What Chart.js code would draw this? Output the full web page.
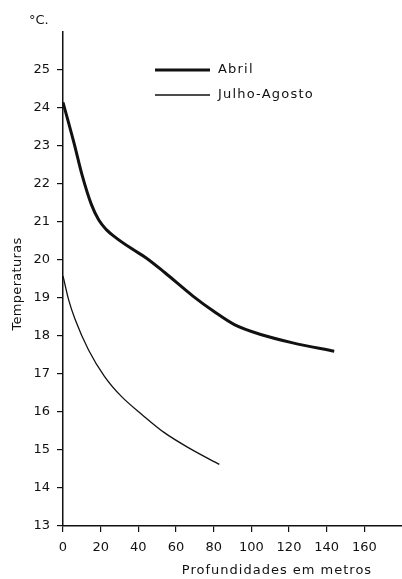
<!DOCTYPE html>
<html>
<head>
<meta charset="utf-8">
<script src="https://cdn.jsdelivr.net/npm/chart.js@4"></script>
<style>
  html, body { margin: 0; padding: 0; background: #fff; }
  #wrap { width: 402px; height: 579px; position: relative; }
</style>
</head>
<body>
<div id="wrap"><canvas id="chart"></canvas></div>
<script>
// depth (m) and temperature (°C)
const depthAbril = [0, 6, 10, 15, 19, 23, 28, 37, 44, 54, 69, 80, 91, 105, 122, 144];
const tempAbril = [24.15, 23.05, 22.26, 21.47, 21.05, 20.8, 20.59, 20.28, 20.06, 19.67, 19.05, 18.65, 18.3, 18.04, 17.82, 17.6];

const depthJulho = [0, 3, 6.4, 13.5, 22, 31, 42, 54, 67, 83];
const tempJulho = [19.58, 18.95, 18.44, 17.64, 16.94, 16.41, 15.93, 15.45, 15.05, 14.62];

const xTicks = [0, 20, 40, 60, 80, 100, 120, 140, 160];
const yTicks = [13, 14, 15, 16, 17, 18, 19, 20, 21, 22, 23, 24, 25];

const seriesNames = ['Abril', 'Julho-Agosto'];

const FONT = '"DejaVu Sans", sans-serif';

// Texts that don't fit chart.js title/legend placement
const textPlugin = {
  id: 'texts',
  afterDraw(chart) {
    const ctx = chart.ctx;
    ctx.save();
    ctx.fillStyle = '#111';
    ctx.textBaseline = 'middle';

    // legend
    chart.data.datasets.forEach((ds, i) => {
      const y = 70 + i * 25;
      ctx.strokeStyle = '#111';
      ctx.lineWidth = ds.borderWidth;
      ctx.beginPath();
      ctx.moveTo(155, y);
      ctx.lineTo(210, y);
      ctx.stroke();
      ctx.font = '13px ' + FONT;
      ctx.textAlign = 'left';
      ctx.letterSpacing = '1.2px';
      ctx.fillText(ds.label, 218, y);
    });

    // unit
    ctx.letterSpacing = '0px';
    ctx.font = '13px ' + FONT;
    ctx.textAlign = 'left';
    ctx.fillText('°C.', 29, 21);

    // x title
    ctx.letterSpacing = '1px';
    ctx.textAlign = 'center';
    ctx.fillText('Profundidades em metros', 277, 571);

    // y title
    ctx.translate(18, 284);
    ctx.rotate(-Math.PI / 2);
    ctx.letterSpacing = '0.3px';
    ctx.fillText('Temperaturas', 0, 0);
    ctx.restore();
  }
};

const ctx = document.getElementById('chart').getContext('2d');
new Chart(ctx, {
  type: 'line',
  data: {
    datasets: [
      {
        label: seriesNames[0],
        data: depthAbril.map((d, i) => ({ x: d, y: tempAbril[i] })),
        borderColor: '#111',
        borderWidth: 3,
        pointRadius: 0,
        cubicInterpolationMode: 'monotone'
      },
      {
        label: seriesNames[1],
        data: depthJulho.map((d, i) => ({ x: d, y: tempJulho[i] })),
        borderColor: '#111',
        borderWidth: 1.3,
        pointRadius: 0,
        cubicInterpolationMode: 'monotone'
      }
    ]
  },
  options: {
    responsive: true,
    maintainAspectRatio: false,
    animation: false,
    layout: { padding: { top: 32, right: 0, left: 0, bottom: 0 } },
    plugins: {
      legend: { display: false },
      tooltip: { enabled: false }
    },
    scales: {
      x: {
        type: 'linear',
        min: 0,
        max: 180,
        afterBuildTicks: (scale) => { scale.ticks = xTicks.map(v => ({ value: v })); },
        afterFit: (scale) => { scale.height = 53; },
        border: { color: '#111', width: 1.5 },
        grid: { drawOnChartArea: false, tickLength: 6, color: '#111', lineWidth: 1.2 },
        ticks: {
          color: '#111',
          padding: 8,
          maxRotation: 0,
          font: { family: FONT, size: 13 }
        }
      },
      y: {
        type: 'linear',
        min: 13,
        max: 26,
        afterBuildTicks: (scale) => { scale.ticks = yTicks.map(v => ({ value: v })); },
        afterFit: (scale) => { scale.width = 63; },
        border: { color: '#111', width: 1.5 },
        grid: { drawOnChartArea: false, tickLength: 6, color: '#111', lineWidth: 1.2 },
        ticks: {
          color: '#111',
          padding: 7,
          font: { family: FONT, size: 13 }
        }
      }
    }
  },
  plugins: [textPlugin]
});
</script>
</body>
</html>
